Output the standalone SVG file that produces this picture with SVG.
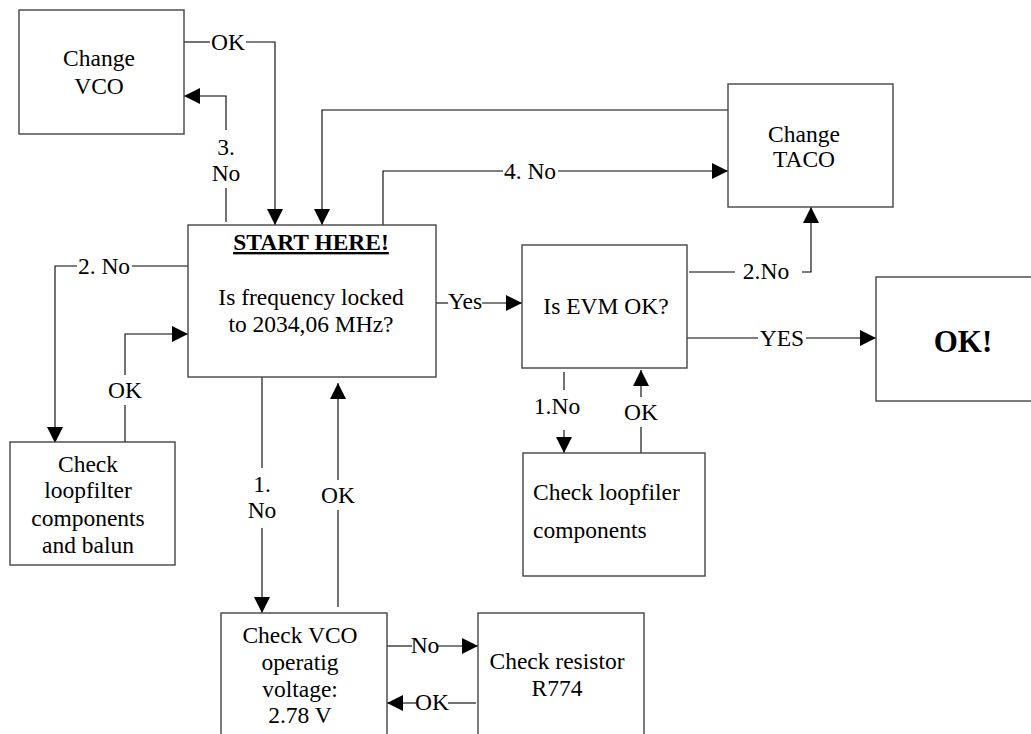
<svg xmlns="http://www.w3.org/2000/svg" width="1031" height="734" viewBox="0 0 1031 734">
<style>
.box{fill:#fff;stroke:#444;stroke-width:1.4}
.ln{fill:none;stroke:#000;stroke-width:1.1}
text{font-family:'Liberation Serif','Times New Roman',Times,serif;font-size:23.5px;fill:#000;text-anchor:middle}
.b{font-weight:bold}
</style>
<defs>
<marker id="arr" markerUnits="userSpaceOnUse" markerWidth="16" markerHeight="16" viewBox="0 0 16 16" refX="16" refY="8" orient="auto">
<path d="M0,0 L16,8 L0,16 z" fill="#000"/>
</marker>
</defs>
<rect width="1031" height="734" fill="#fff"/>
<g id="connectors">
<polyline class="ln" points="184,42 210,42"/>
<polyline class="ln" points="246,42 275,42 275,225" marker-end="url(#arr)"/>
<text x="228" y="50">OK</text>
<polyline class="ln" points="226,222 226,188"/>
<polyline class="ln" points="226,130 226,96 184,96" marker-end="url(#arr)"/>
<text x="226" y="155">3.</text>
<text x="226" y="181">No</text>
<polyline class="ln" points="728,110 322,110 322,225" marker-end="url(#arr)"/>
<polyline class="ln" points="383,225 383,171 503,171"/>
<polyline class="ln" points="558,171 728,171" marker-end="url(#arr)"/>
<text x="530" y="179">4. No</text>
<polyline class="ln" points="188,266 132,266"/>
<polyline class="ln" points="77,266 55,266 55,443" marker-end="url(#arr)"/>
<text x="104" y="274">2. No</text>
<polyline class="ln" points="125,443 125,405"/>
<polyline class="ln" points="125,375 125,334 188,334" marker-end="url(#arr)"/>
<text x="125" y="398">OK</text>
<polyline class="ln" points="436,303 448,303"/>
<polyline class="ln" points="482,303 522,303" marker-end="url(#arr)"/>
<text x="465" y="309">Yes</text>
<polyline class="ln" points="262,377 262,468"/>
<polyline class="ln" points="262,528 262,613" marker-end="url(#arr)"/>
<text x="262" y="492">1.</text>
<text x="262" y="518">No</text>
<polyline class="ln" points="338,607 338,510"/>
<polyline class="ln" points="338,480 338,383" marker-end="url(#arr)"/>
<text x="338" y="503">OK</text>
<polyline class="ln" points="689,272 735,272"/>
<polyline class="ln" points="802,272 811,272 811,207" marker-end="url(#arr)"/>
<text x="766" y="279">2.No</text>
<polyline class="ln" points="687,338 758,338"/>
<polyline class="ln" points="806,338 876,338" marker-end="url(#arr)"/>
<text x="782" y="346">YES</text>
<polyline class="ln" points="564,372 564,390"/>
<polyline class="ln" points="564,430 564,453" marker-end="url(#arr)"/>
<text x="557" y="414">1.No</text>
<polyline class="ln" points="641,453 641,427"/>
<polyline class="ln" points="641,397 641,370" marker-end="url(#arr)"/>
<text x="641" y="420">OK</text>
<polyline class="ln" points="383,646 412,646"/>
<polyline class="ln" points="438,646 478,646" marker-end="url(#arr)"/>
<text x="425" y="653">No</text>
<polyline class="ln" points="476,703 448,703"/>
<polyline class="ln" points="416,703 387,703" marker-end="url(#arr)"/>
<text x="432" y="710">OK</text>
</g>
<g id="change-vco">
<rect class="box" x="19" y="10" width="165" height="124"/>
<text x="99" y="66">Change</text>
<text x="99" y="94">VCO</text>
</g>
<g id="start">
<rect class="box" x="188" y="225" width="248" height="152"/>
<text class="b" x="311" y="250" text-decoration="underline">START HERE!</text>
<text x="311" y="305">Is frequency locked</text>
<text x="311" y="332">to 2034,06 MHz?</text>
</g>
<g id="change-taco">
<rect class="box" x="728" y="84" width="165" height="123"/>
<text x="804" y="142">Change</text>
<text x="804" y="167">TACO</text>
</g>
<g id="evm">
<rect class="box" x="522" y="245" width="165" height="123"/>
<text x="606" y="314">Is EVM OK?</text>
</g>
<g id="ok">
<rect class="box" x="876" y="277" width="170" height="124"/>
<text class="b" x="963" y="352" style="font-size:31px">OK!</text>
</g>
<g id="check-loopfilter">
<rect class="box" x="10" y="442" width="165" height="123"/>
<text x="88" y="472">Check</text>
<text x="88" y="498">loopfilter</text>
<text x="88" y="526">components</text>
<text x="88" y="553">and balun</text>
</g>
<g id="check-loopfiler">
<rect class="box" x="523" y="453" width="182" height="123"/>
<text x="533" y="500" style="text-anchor:start">Check loopfiler</text>
<text x="533" y="538" style="text-anchor:start">components</text>
</g>
<g id="check-vco">
<rect class="box" x="221" y="613" width="166" height="130"/>
<text x="300" y="643">Check VCO</text>
<text x="300" y="670">operatig</text>
<text x="300" y="697">voltage:</text>
<text x="300" y="723">2.78 V</text>
</g>
<g id="check-resistor">
<rect class="box" x="478" y="613" width="166" height="130"/>
<text x="557" y="669">Check resistor</text>
<text x="557" y="696">R774</text>
</g>
</svg>
